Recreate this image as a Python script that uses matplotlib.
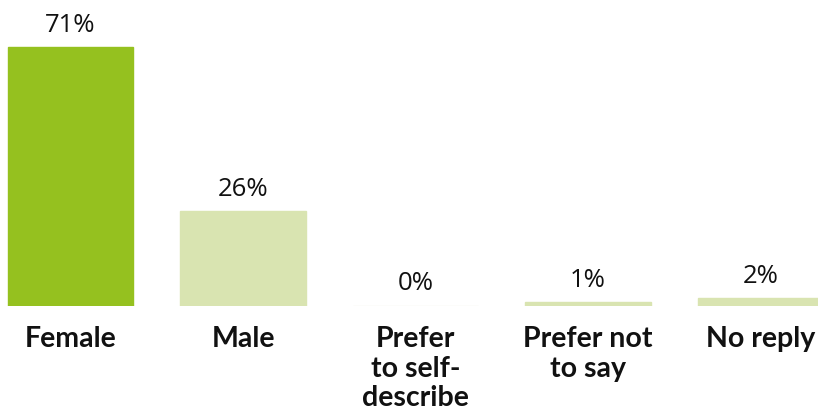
import matplotlib
matplotlib.use('Agg')
import matplotlib.pyplot as plt

categories = ['Female', 'Male', 'Prefer\nto self-\ndescribe', 'Prefer not\nto say', 'No reply']
shares = [71, 26, 0, 1, 2]
value_labels = ['71%', '26%', '0%', '1%', '2%']
colors = ['#95c11f', '#d9e4b1', '#f3f4e6', '#d9e4b1', '#d9e4b1']

fig = plt.figure(figsize=(8.18, 4.2), dpi=100)
ax = fig.add_axes([0, 0.2726, 1, 0.7274])

x = range(len(categories))
bars = ax.bar(x, shares, width=0.73, color=colors, edgecolor=colors, linewidth=1)

ax.set_xlim(-0.4087, 4.333)
ax.set_ylim(0, 84.07)

# percentage above each bar
for b, lab in zip(bars, value_labels):
    ax.annotate(lab, (b.get_x() + b.get_width() / 2, b.get_height()),
                xytext=(0, 11), textcoords='offset points',
                ha='center', va='baseline', fontsize=18.5, family='Open Sans', color='#111111')

# category names under the baseline
for i, cat in enumerate(categories):
    ax.annotate(cat, (i, 0), xytext=(0, -15), textcoords='offset points',
                ha='center', va='top', fontsize=20.5, fontweight='bold', family='Lato',
                color='#111111', linespacing=1.16)

ax.axis('off')
fig.savefig('out.png', dpi=100)
